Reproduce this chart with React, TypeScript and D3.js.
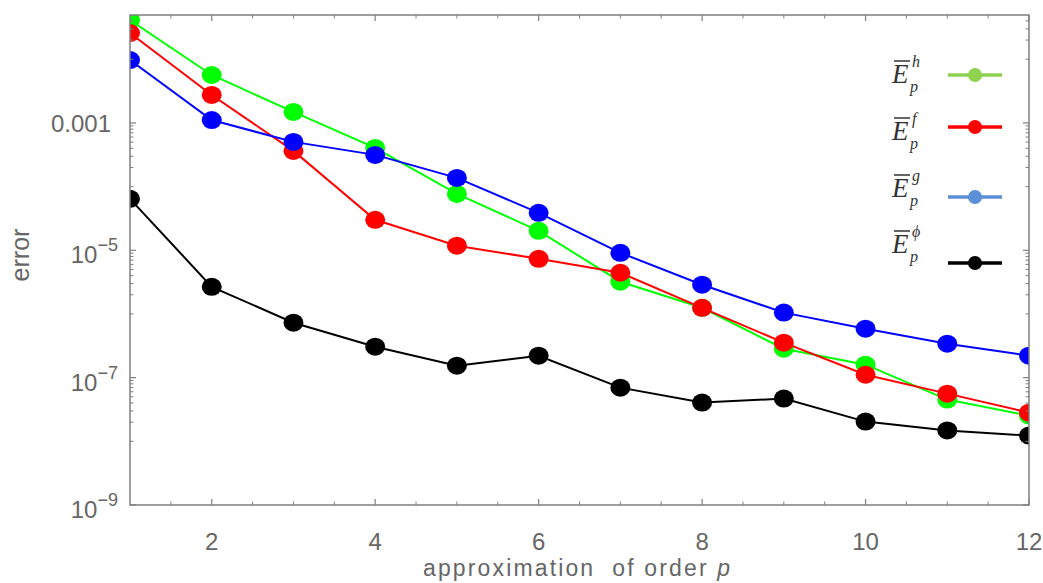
import React from "react";
import * as d3 from "d3";

const orders = [1, 2, 3, 4, 5, 6, 7, 8, 9, 10, 11, 12];
const errH = [4.13e-2, 5.66e-3, 1.49e-3, 4.05e-4, 7.69e-5, 2.02e-5, 3.21e-6, 1.25e-6, 2.85e-7, 1.6e-7, 4.52e-8, 2.54e-8];
const errF = [2.58e-2, 2.75e-3, 3.64e-4, 3.01e-5, 1.18e-5, 7.36e-6, 4.44e-6, 1.25e-6, 3.54e-7, 1.11e-7, 5.61e-8, 2.82e-8];
const errG = [9.72e-3, 1.11e-3, 5.04e-4, 3.15e-4, 1.37e-4, 3.87e-5, 9.14e-6, 2.88e-6, 1.05e-6, 5.87e-7, 3.41e-7, 2.21e-7];
const errPhi = [6.43e-5, 2.67e-6, 7.29e-7, 3.06e-7, 1.54e-7, 2.21e-7, 6.97e-8, 4.06e-8, 4.69e-8, 2.04e-8, 1.48e-8, 1.23e-8];

const seriesNames = ["h", "f", "g", "\u03d5"];
const lineColors = ["#00ff00", "#ff0000", "#0000ff", "#000000"];
const legendColors = ["#8ed24f", "#ff0000", "#5b8fd6", "#000000"];

const xTickValues = [2, 4, 6, 8, 10, 12];
const yTickValues = [1e-3, 1e-5, 1e-7, 1e-9];
const yTickLabels = [["0.001", ""], ["10", "\u22125"], ["10", "\u22127"], ["10", "\u22129"]];

const W = 1043, H = 583;
const L = 130, R = 1029, T = 15, B = 505;

export default function App() {
  const x = d3.scaleLinear().domain([1, 12]).range([L, R]);
  const y = d3.scaleLog().domain([1e-9, Math.pow(10, -1.305)]).range([B, T]);
  const series = [errH, errF, errG, errPhi];
  const line = d3.line<number>().x((_, i) => x(orders[i])).y((d) => y(d));

  const xMinor = d3.range(1.5, 12.01, 0.5).filter((v) => !xTickValues.includes(v));
  const yMinor: number[] = [];
  [-1, -3, -5, -7, -9].forEach((k) => {
    for (let m = 1; m <= 9; m++) {
      const v = m * Math.pow(10, k - 1);
      if (v >= 1e-9 && v <= Math.pow(10, -1.305)) yMinor.push(v);
    }
  });

  const axisColor = "#7f7f7f";
  const textColor = "#666666";
  const font = "'Liberation Sans', Arial, sans-serif";
  const serif = "'Liberation Serif', 'Times New Roman', serif";
  const legendY = [75, 127, 197, 263];
  const labelBase = [83, 140, 197, 253];

  return (
    <div style={{ position: "absolute", left: 0, top: 0 }}>
      <svg width={W} height={H} style={{ display: "block", background: "#fff" }}>
        <defs>
          <clipPath id="plotClip">
            <rect x={L} y={T} width={R - L} height={B - T} />
          </clipPath>
        </defs>
        <g clipPath="url(#plotClip)">
          {series.map((s, si) => (
            <g key={si}>
              <path d={line(s) || ""} fill="none" stroke={lineColors[si]} strokeWidth={2} />
              {s.map((v, i) => (
                <ellipse key={i} cx={x(orders[i])} cy={y(v)} rx={10} ry={9} fill={lineColors[si]} />
              ))}
            </g>
          ))}
        </g>
        <rect x={L} y={T} width={R - L} height={B - T} fill="none" stroke={axisColor} strokeWidth={1.5} />
        {xTickValues.map((v) => (
          <g key={"xt" + v}>
            <line x1={x(v)} x2={x(v)} y1={B} y2={B - 6} stroke={axisColor} strokeWidth={1.2} />
            <line x1={x(v)} x2={x(v)} y1={T} y2={T + 6} stroke={axisColor} strokeWidth={1.2} />
            <text x={x(v)} y={B + 45} textAnchor="middle" fontFamily={font} fontSize={24} fill={textColor}>{v}</text>
          </g>
        ))}
        {xMinor.map((v) => (
          <g key={"xm" + v}>
            <line x1={x(v)} x2={x(v)} y1={B} y2={B - 3.5} stroke={axisColor} strokeWidth={1} />
            <line x1={x(v)} x2={x(v)} y1={T} y2={T + 3.5} stroke={axisColor} strokeWidth={1} />
          </g>
        ))}
        {yTickValues.map((v, i) => (
          <g key={"yt" + i}>
            <line x1={L} x2={L + 6} y1={y(v)} y2={y(v)} stroke={axisColor} strokeWidth={1.2} />
            <line x1={R} x2={R - 6} y1={y(v)} y2={y(v)} stroke={axisColor} strokeWidth={1.2} />
            {yTickLabels[i][1] === "" ? (
              <text x={111} y={y(v) + 9} textAnchor="end" fontFamily={font} fontSize={24} fill={textColor}>{yTickLabels[i][0]}</text>
            ) : (
              <text x={118} y={y(v) + 13} textAnchor="end" fontFamily={font} fontSize={24} fill={textColor}>
                {yTickLabels[i][0]}
                <tspan fontSize={18} dy={-12}>{yTickLabels[i][1]}</tspan>
              </text>
            )}
          </g>
        ))}
        {yMinor.map((v, i) => (
          <g key={"ym" + i}>
            <line x1={L} x2={L + 3.5} y1={y(v)} y2={y(v)} stroke={axisColor} strokeWidth={1} />
            <line x1={R} x2={R - 3.5} y1={y(v)} y2={y(v)} stroke={axisColor} strokeWidth={1} />
          </g>
        ))}
        <text x={423} y={576} fontFamily={font} fontSize={23} fill={textColor} textLength={307} lengthAdjust="spacing">
          approximation{"\u00a0\u00a0"}of order <tspan fontStyle="italic">p</tspan>
        </text>
        <text transform={`translate(29,255) rotate(-90)`} textAnchor="middle" fontFamily={font} fontSize={25} fill={textColor}>error</text>
        {seriesNames.map((n, i) => (
          <g key={"lg" + i}>
            <line x1={948} x2={1002} y1={legendY[i]} y2={legendY[i]} stroke={legendColors[i]} strokeWidth={3.5} />
            <ellipse cx={975} cy={legendY[i]} rx={7} ry={7} fill={legendColors[i]} />
            <text x={892} y={labelBase[i]} fontFamily={serif} fontStyle="italic" fontSize={27} fill="#333">E</text>
            <line x1={894} x2={910} y1={labelBase[i] - 22} y2={labelBase[i] - 22} stroke="#333" strokeWidth={1.5} />
            <text x={912} y={labelBase[i] - 16} fontFamily={serif} fontStyle="italic" fontSize={16} fill="#333">{n}</text>
            <text x={910} y={labelBase[i] + 9} fontFamily={serif} fontStyle="italic" fontSize={16} fill="#333">p</text>
          </g>
        ))}
      </svg>
    </div>
  );
}
